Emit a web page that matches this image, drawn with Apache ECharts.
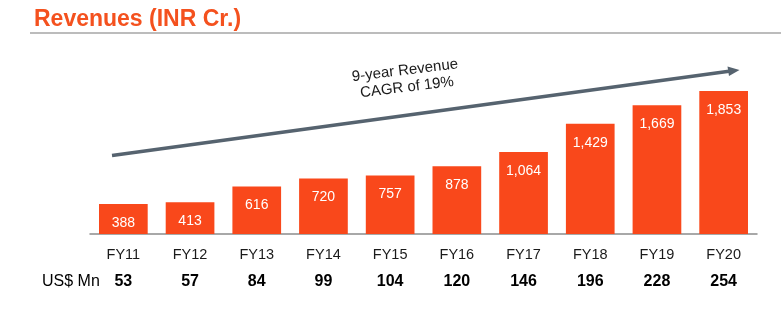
<!DOCTYPE html>
<html><head><meta charset="utf-8">
<script src="https://cdn.jsdelivr.net/npm/echarts@6/dist/echarts.min.js"></script>
<style>html,body{margin:0;padding:0;background:#fff}#c{width:781px;height:327px}</style>
</head><body><div id="c"></div>
<script>
const categories = ['FY11','FY12','FY13','FY14','FY15','FY16','FY17','FY18','FY19','FY20'];
const revenues = [388,413,616,720,757,878,1064,1429,1669,1853];
const usdMn = ['53','57','84','99','104','120','146','196','228','254'];
const titleText = 'Revenues (INR Cr.)';
const usdLabel = 'US$ Mn';
const cagrText = '9-year Revenue\nCAGR of 19%';

const ORANGE = '#F9481B';
const FONT = 'Liberation Sans, Arial';
const chart = echarts.init(document.getElementById('c'));
chart.setOption({
  animation: false,
  backgroundColor: '#fff',
  title: {
    text: titleText, left: 29, top: 3,
    textStyle: {fontFamily: FONT, fontSize: 23, fontWeight: 'bold', color: '#F4511E'}
  },
  grid: {left: 90, right: 24, top: 33.4, bottom: 93},
  xAxis: [{
    type: 'category', data: categories, position: 'bottom',
    axisLine: {lineStyle: {color: '#8c8c8c', width: 1.5}},
    axisTick: {show: false},
    axisLabel: {color: '#1a1a1a', fontSize: 14.5, fontFamily: FONT, margin: 13}
  }, {
    type: 'category', data: usdMn, position: 'bottom', offset: 30,
    axisLine: {show: false}, axisTick: {show: false},
    axisLabel: {color: '#000', fontSize: 16, fontWeight: 'bold', fontFamily: FONT, margin: 10}
  }],
  yAxis: {type: 'value', min: 0, max: 2600, show: false, splitLine: {show: false}},
  series: [{
    type: 'bar', data: revenues, xAxisIndex: 0, barCategoryGap: '27%',
    itemStyle: {color: ORANGE},
    label: {
      show: true, position: 'insideTop', distance: 12, color: '#fff', fontSize: 14,
      fontFamily: FONT,
      formatter: p => p.value.toLocaleString('en-US')
    }
  }],
  graphic: [
    {type: 'line', shape: {x1: 30, y1: 33, x2: 781, y2: 33}, style: {stroke: '#a6a6a6', lineWidth: 1.5}},
    {type: 'text', left: 42, top: 274, style: {text: usdLabel, fontSize: 16, fill: '#000', fontFamily: FONT}},
    {type: 'line', shape: {x1: 112, y1: 155.5, x2: 729, y2: 71.3}, style: {stroke: '#56636f', lineWidth: 3.5}},
    {type: 'polygon', shape: {points: [[739.5, 70], [727.5, 66.5], [729, 76]]}, style: {fill: '#56636f'}},
    {type: 'text', x: 406, y: 79, rotation: 7 * Math.PI / 180,
     style: {text: cagrText, fontSize: 15, fill: '#1a1a1a', align: 'center', verticalAlign: 'middle', lineHeight: 17, fontFamily: FONT}}
  ]
});
</script></body></html>
